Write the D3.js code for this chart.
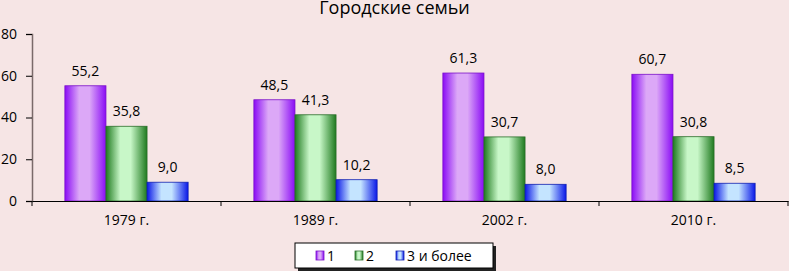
<!DOCTYPE html>
<html>
<head>
<meta charset="utf-8">
<script src="https://cdn.jsdelivr.net/npm/d3@7"></script>
<style>
  body { margin: 0; background: #f6e5e5; }
  svg { display: block; font-family: "Open Sans", "DejaVu Sans", sans-serif; }
</style>
</head>
<body>
<div id="chart"></div>
<script>
const width = 789;
const height = 271;
const margin = { top: 34, bottom: 70, left: 32, right: 1 };

const years = ['1979 г.', '1989 г.', '2002 г.', '2010 г.'];
const seriesNames = ['1', '2', '3 и более'];
const oneChild = [55.2, 48.5, 61.3, 60.7];
const twoChildren = [35.8, 41.3, 30.7, 30.8];
const threeOrMore = [9.0, 10.2, 8.0, 8.5];
const yTicks = [0, 20, 40, 60, 80];

const seriesValues = [oneChild, twoChildren, threeOrMore];
const colors = [
    { dark: '#8a0cf5', light: '#dca8f7', stroke: '#7a10c8' },
    { dark: '#1f7a1f', light: '#c8f7c8', stroke: '#2a6e2a' },
    { dark: '#0a18e8', light: '#c4e4ff', stroke: '#1020b0' },
];

const svg = d3.select('#chart')
    .append('svg')
    .attr('width', width)
    .attr('height', height);

const defs = svg.append('defs');
colors.forEach((c, i) => {
    const g = defs.append('linearGradient')
        .attr('id', `grad${i}`)
        .attr('x1', '0%').attr('x2', '100%').attr('y1', '0%').attr('y2', '0%');
    g.append('stop').attr('offset', '0%').attr('stop-color', c.dark);
    g.append('stop').attr('offset', '35%').attr('stop-color', c.light);
    g.append('stop').attr('offset', '60%').attr('stop-color', c.light);
    g.append('stop').attr('offset', '100%').attr('stop-color', c.dark);
});

const x = d3.scaleBand()
    .domain(years)
    .range([margin.left, width - margin.right])
    .paddingInner(0)
    .paddingOuter(0);

const xInner = d3.scaleBand()
    .domain(d3.range(seriesNames.length))
    .range([0, x.bandwidth()])
    .paddingOuter(0.8)
    .paddingInner(0);

const y = d3.scaleLinear()
    .domain([0, 80])
    .range([height - margin.bottom, margin.top]);

// title
svg.append('text')
    .attr('x', width / 2)
    .attr('y', 14)
    .attr('text-anchor', 'middle')
    .attr('font-size', '18px')
    .attr('fill', '#000')
    .text('Городские семьи');

// bars
const groups = svg.append('g')
    .selectAll('g')
    .data(years)
    .join('g')
    .attr('transform', d => `translate(${x(d)},0)`);

groups.each(function(year, yi) {
    const g = d3.select(this);
    seriesValues.forEach((vals, si) => {
        g.append('rect')
            .attr('x', xInner(si))
            .attr('y', y(vals[yi]))
            .attr('width', xInner.bandwidth())
            .attr('height', y(0) - y(vals[yi]))
            .attr('fill', `url(#grad${si})`)
            .attr('stroke', colors[si].stroke)
            .attr('stroke-width', 0.8);
        g.append('text')
            .attr('x', xInner(si) + xInner.bandwidth() / 2)
            .attr('y', y(vals[yi]) - 10)
            .attr('text-anchor', 'middle')
            .attr('font-size', '14px')
            .attr('fill', '#000')
            .text(vals[yi].toFixed(1).replace('.', ','));
    });
});

// axes
svg.append('g')
    .attr('transform', `translate(${margin.left},0)`)
    .call(d3.axisLeft(y).tickValues(yTicks).tickSize(6).tickPadding(9))
    .call(g => g.select('.domain').attr('stroke', '#7a6a6a').attr('stroke-width', 1.5))
    .call(g => g.selectAll('.tick line').attr('stroke', '#000'))
    .call(g => g.selectAll('.tick text').attr('font-size', '14px').attr('fill', '#000')
        .attr('font-family', '"Open Sans", sans-serif'));

svg.append('g')
    .attr('transform', `translate(0,${y(0)})`)
    .call(d3.axisBottom(x).tickSize(0).tickPadding(14))
    .call(g => g.select('.domain').attr('stroke', '#000').attr('stroke-width', 1.2))
    .call(g => g.selectAll('.tick text').attr('font-size', '14px').attr('fill', '#000')
        .attr('font-family', '"Open Sans", sans-serif'));

// category separators
svg.append('g')
    .selectAll('line')
    .data(years.concat(['end']))
    .join('line')
    .attr('x1', (d, i) => i < years.length ? x(d) : x(years[years.length - 1]) + x.bandwidth())
    .attr('x2', (d, i) => i < years.length ? x(d) : x(years[years.length - 1]) + x.bandwidth())
    .attr('y1', y(0))
    .attr('y2', y(0) + 5)
    .attr('stroke', '#000');

// legend
const legend = svg.append('g').attr('transform', 'translate(295,243)');
legend.append('rect')
    .attr('x', 3).attr('y', 3).attr('width', 198).attr('height', 25)
    .attr('fill', '#222');
legend.append('rect')
    .attr('x', 0).attr('y', 0).attr('width', 198).attr('height', 25)
    .attr('fill', '#fff').attr('stroke', '#000').attr('stroke-width', 1);

const legendX = [21, 60, 101];
seriesNames.forEach((name, i) => {
    legend.append('rect')
        .attr('x', legendX[i]).attr('y', 8)
        .attr('width', 8).attr('height', 9)
        .attr('fill', `url(#grad${i})`)
        .attr('stroke', colors[i].stroke).attr('stroke-width', 0.8);
    legend.append('text')
        .attr('x', legendX[i] + 11).attr('y', 18)
        .attr('font-size', '14px')
        .attr('fill', '#000')
        .text(name);
});
</script>
</body>
</html>
